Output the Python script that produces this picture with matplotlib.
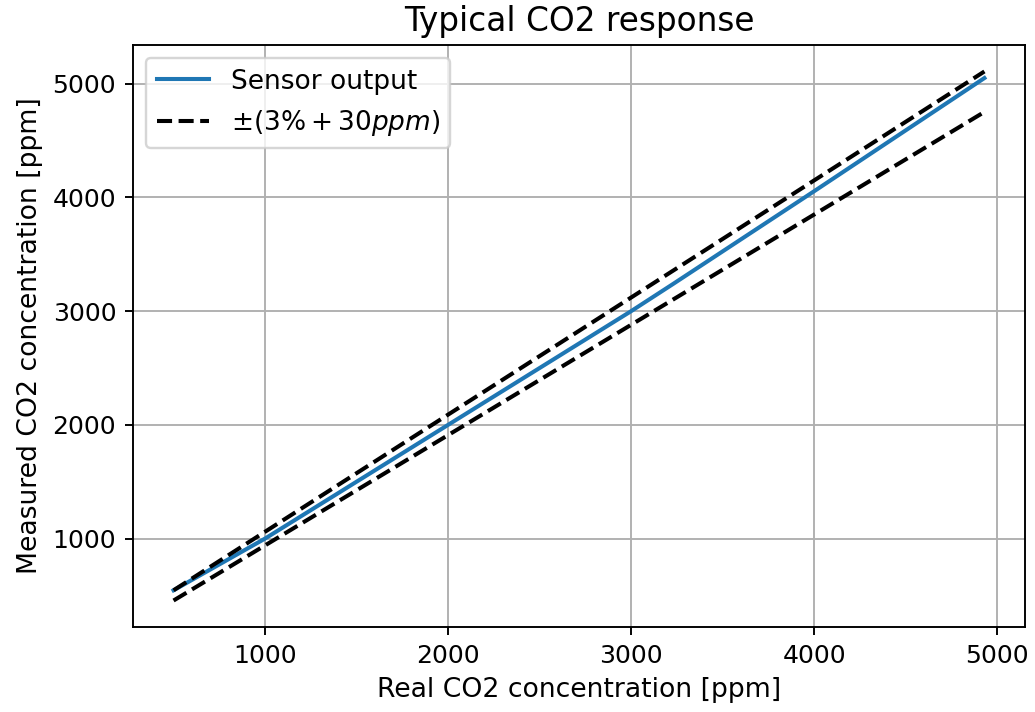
import matplotlib
matplotlib.use('Agg')
import matplotlib.pyplot as plt

# readings from the reference plot
real_co2 = [500, 1000, 2000, 3000, 3230, 4000, 4930]
measured_co2 = [545, 1000, 2000, 3000, 3240, 4055, 5050]

bound_x = [500, 4930]
upper_bound = [545, 5108]
lower_bound = [455, 4752]

fig = plt.figure(figsize=(1035 / 172.5, 712 / 172.5), dpi=172.5)
ax = fig.add_subplot(111)
fig.subplots_adjust(left=0.1285, right=0.9903, top=0.9368, bottom=0.1194)

ax.plot(real_co2, measured_co2, color='#1f77b4', lw=1.7, label='Sensor output')
ax.plot(bound_x, upper_bound, 'k--', lw=1.7, label=r'$\pm(3\% + 30ppm)$')
ax.plot(bound_x, lower_bound, 'k--', lw=1.7)

ax.set_title('Typical CO2 response', fontsize=13.7)
ax.set_xlabel('Real CO2 concentration [ppm]', fontsize=11.1)
ax.set_ylabel('Measured CO2 concentration [ppm]', fontsize=11.1)
ax.tick_params(labelsize=10.5)
ax.grid(True)
ax.legend(loc='upper left', fontsize=11)

fig.savefig('out.png', dpi=172.5)
